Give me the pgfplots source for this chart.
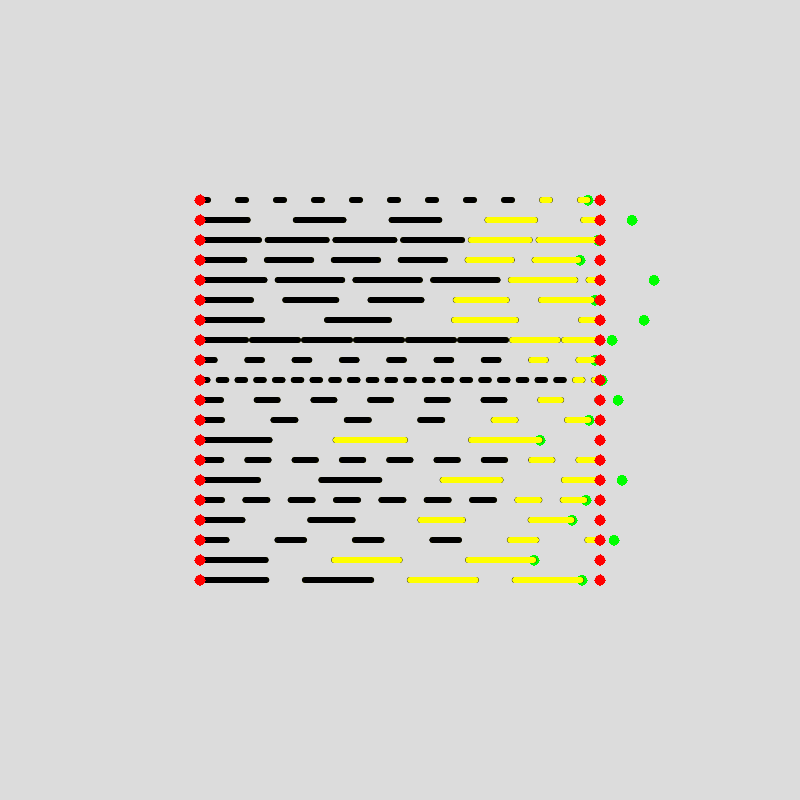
\documentclass[border=0pt]{standalone}
\usepackage{pgfplots}
\pgfplotsset{compat=1.18}
\definecolor{bg}{HTML}{DCDCDC}
\definecolor{lime}{HTML}{00FF00}
\definecolor{yel}{HTML}{FFFF00}
% #1 = row y (px), #2 = dash on (pt), #3 = dash off (pt), #4 = colour change x (px), #5 = line end x (px)
\newcommand\dashrow[5]{%
  \addplot[black, line width=3pt, line cap=round, dash pattern=on #2pt off #3pt] coordinates {(200,#1) (#5,#1)};
  \addplot[yel, line width=2.6pt, line cap=round, dash pattern=on #2pt off #3pt] coordinates {(200,#1) (#5,#1)};
  \addplot[black, line width=3pt, line cap=round, dash pattern=on #2pt off #3pt] coordinates {(200,#1) (#4,#1)};
}
\begin{document}
\begin{tikzpicture}
\begin{axis}[
  width=400pt, height=400pt, scale only axis,
  xmin=0, xmax=800, ymin=0, ymax=800, y dir=reverse,
  xtick=\empty, ytick=\empty,
  axis line style={draw=none},
  axis background/.style={fill=bg},
  clip=false, clip mode=individual,
]
% green markers (behind the lines)
\addplot[only marks, color=lime, mark=*, mark size=2.5pt, mark options={line width=0pt, draw=lime, fill=lime}] coordinates {
(588,200) (632,220) (598,240) (580,260) (654,280) (595,300) (644,320) (612,340) (595,360) (602,380)
(618,400) (589,420) (540,440) (600,460) (622,480) (586,500) (572,520) (614,540) (534,560) (582,580)};
\dashrow{200}{4}{15}{527}{588}
\dashrow{220}{23.85}{24.05}{463}{600}
\dashrow{240}{29.5}{4.35}{467}{598}
\dashrow{260}{22.15}{11.3}{456}{580}
\dashrow{280}{32.25}{6.6}{504}{600}
\dashrow{300}{25.5}{17.125}{439}{595}
\dashrow{320}{31}{32.5}{420}{600}
\dashrow{340}{23}{3}{510}{600}
\dashrow{360}{7.35}{16.3}{515}{595}
\dashrow{380}{3.75}{5.625}{569.5}{600}
\dashrow{400}{10.5}{17.85}{523}{600}
\dashrow{420}{11}{25.7}{468}{589}
\dashrow{440}{34.8}{32.95}{302}{540}
\dashrow{460}{10.65}{13}{518}{600}
\dashrow{480}{29}{31.65}{410}{600}
\dashrow{500}{11}{11.67}{505}{586}
\dashrow{520}{21.25}{33.85}{386}{572}
\dashrow{540}{13.3}{25.43}{484}{600}
\dashrow{560}{32.85}{34.15}{300}{534}
\dashrow{580}{33.15}{19.3}{390}{582}
% red end markers
\addplot[only marks, color=red, mark=*, mark size=2.6pt, mark options={line width=0pt, draw=red, fill=red}] coordinates {
(200,200) (600,200) (200,220) (600,220) (200,240) (600,240) (200,260) (600,260) (200,280) (600,280)
(200,300) (600,300) (200,320) (600,320) (200,340) (600,340) (200,360) (600,360) (200,380) (600,380)
(200,400) (600,400) (200,420) (600,420) (200,440) (600,440) (200,460) (600,460) (200,480) (600,480)
(200,500) (600,500) (200,520) (600,520) (200,540) (600,540) (200,560) (600,560) (200,580) (600,580)};
\end{axis}
\end{tikzpicture}
\end{document}
